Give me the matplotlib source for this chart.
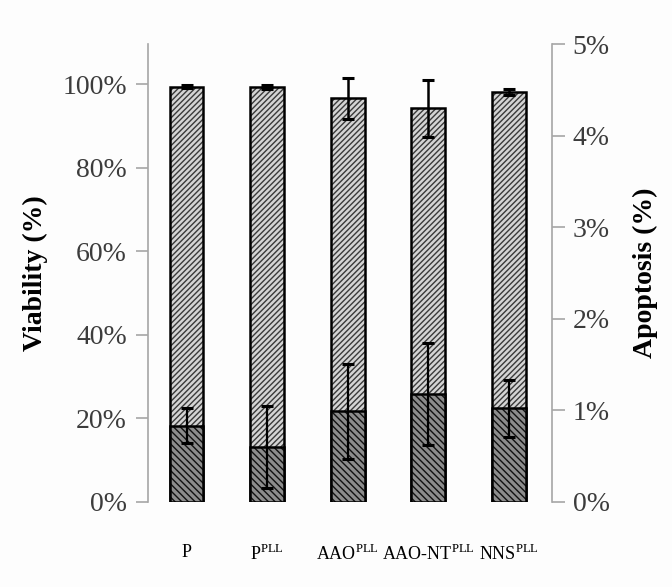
import matplotlib
matplotlib.use("Agg")
import matplotlib.pyplot as plt
import numpy as np
from matplotlib.ticker import PercentFormatter

plt.rcParams['font.family'] = 'serif'
plt.rcParams['font.serif'] = ['Liberation Serif', 'DejaVu Serif']
plt.rcParams['mathtext.fontset'] = 'custom'
plt.rcParams['mathtext.rm'] = 'Liberation Serif'
plt.rcParams['hatch.linewidth'] = 1.0

# samples
groups = [r'P', r'P$^{\mathrm{PLL}}$', r'AAO$^{\mathrm{PLL}}$',
          r'AAO-NT$^{\mathrm{PLL}}$', r'NNS$^{\mathrm{PLL}}$']

# viability (fraction) with standard deviation
viability = [0.994, 0.993, 0.966, 0.942, 0.981]
viability_sd = [0.003, 0.004, 0.049, 0.069, 0.008]

# apoptosis (fraction) with standard deviation
apoptosis = [0.0083, 0.0060, 0.0099, 0.0118, 0.0102]
apoptosis_sd = [0.0019, 0.0045, 0.0052, 0.0056, 0.0031]

x = np.arange(len(groups))
width = 0.42
spine_gray = '#a6a6a6'
tick_gray = '#3c3c3c'

fig = plt.figure(figsize=(6.72, 5.87), dpi=100)
fig.patch.set_facecolor('#fdfdfd')
ax = fig.add_axes([0.220, 0.145, 0.601, 0.780])
ax.set_facecolor('none')

# viability bars: light grey with fine forward hatch
ax.bar(x, viability, width, color='#d4d4d4', edgecolor='#3a3a3a',
       hatch='//////', linewidth=0, zorder=2)
ax.bar(x, viability, width, fill=False, edgecolor='black', linewidth=1.8, zorder=3)
ax.errorbar(x, viability, yerr=viability_sd, fmt='none', ecolor='black',
            elinewidth=1.8, capsize=4, capthick=2.2, zorder=4)

ax.set_xlim(-0.48, 4.53)
ax.set_ylim(0, 1.096)
ax.set_yticks(np.arange(0, 1.01, 0.2))
ax.yaxis.set_major_formatter(PercentFormatter(1.0, decimals=0))
ax.set_xticks(x)
ax.set_xticklabels(groups, fontsize=13)
ax.tick_params(axis='x', length=0, pad=30, colors='black')
ax.tick_params(axis='y', direction='out', length=9, width=1.2, color=spine_gray,
               labelsize=20, labelcolor=tick_gray, pad=6)
for side in ['top', 'bottom', 'right']:
    ax.spines[side].set_visible(False)
ax.spines['left'].set_color(spine_gray)
ax.spines['left'].set_linewidth(1.2)
ax.set_ylabel('Viability (%)', fontsize=20, fontweight='bold', labelpad=10)

# apoptosis on the secondary axis, drawn over the viability bars
ax2 = ax.twinx()
ax2.bar(x, apoptosis, width, color='#8c8c8c', edgecolor='#111111',
        hatch='\\\\\\\\\\', linewidth=0, zorder=2)
ax2.bar(x, apoptosis, width, fill=False, edgecolor='black', linewidth=1.8, zorder=3)
ax2.errorbar(x, apoptosis, yerr=apoptosis_sd, fmt='none', ecolor='black',
             elinewidth=1.6, capsize=4, capthick=2.2, zorder=4)
ax2.set_ylim(0, 0.05)
ax2.set_yticks(np.arange(0, 0.051, 0.01))
ax2.yaxis.set_major_formatter(PercentFormatter(1.0, decimals=0))
ax2.tick_params(axis='y', direction='out', length=9, width=1.2, color=spine_gray,
                labelsize=20, labelcolor=tick_gray, pad=6)
for side in ['top', 'bottom', 'left']:
    ax2.spines[side].set_visible(False)
ax2.spines['right'].set_color(spine_gray)
ax2.spines['right'].set_linewidth(1.2)
ax2.set_ylabel('Apoptosis (%)', fontsize=20, fontweight='bold', labelpad=17)

fig.savefig('out.png', dpi=100, facecolor=fig.get_facecolor())
